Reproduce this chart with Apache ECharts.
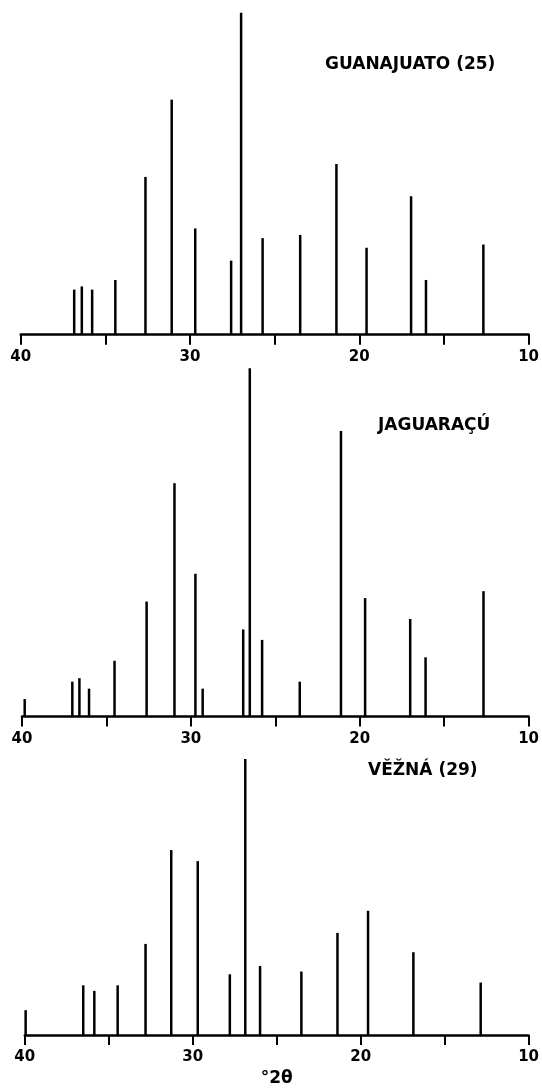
<!DOCTYPE html>
<html>
<head>
<meta charset="utf-8">
<style>
    html, body { margin: 0; padding: 0; background: #fff; }
    #xrd { width: 542px; height: 1088px; }
</style>
<script src="https://cdn.jsdelivr.net/npm/echarts@6/dist/echarts.min.js"></script>
</head>
<body>
<div id="xrd"></div>
<script>
/* 三个样品的 XRD 衍射峰 (2θ, 相对强度 %) */
var names = ['GUANAJUATO (25)', 'JAGUARAÇÚ', 'VĚŽNÁ (29)'];

var angles1 = [36.84, 36.39, 35.78, 34.41, 32.63, 31.08, 29.69, 27.57, 26.98, 25.71, 23.49, 21.35, 19.57, 16.94, 16.06, 12.67];
var int1    = [14, 15, 14, 17, 49, 73, 33, 23, 100, 30, 31, 53, 27, 43, 17, 28];

var angles2 = [39.84, 37.02, 36.60, 36.03, 34.52, 32.62, 30.97, 29.73, 29.30, 26.90, 26.51, 25.78, 23.55, 21.11, 19.68, 17.01, 16.10, 12.67];
var int2    = [5, 10, 11, 8, 16, 33, 67, 41, 8, 25, 100, 22, 10, 82, 34, 28, 17, 36];

var angles3 = [39.95, 36.52, 35.86, 34.47, 32.81, 31.28, 29.70, 27.79, 26.87, 25.99, 23.53, 21.38, 19.56, 16.86, 12.85];
var int3    = [9, 18, 16, 18, 33, 67, 63, 22, 100, 25, 23, 37, 45, 30, 19];

var tickLabels = ['10', '20', '30', '40'];

(function () {
    var font = 'DejaVu Sans';
    var panels = [
        {x: angles1, y: int1, grid: {left: 20.7, right: 11, top: 12.7, height: 322}, title: {left: 325, top: 56}},
        {x: angles2, y: int2, grid: {left: 22, right: 11.3, top: 368.3, height: 348.2}, title: {left: 378, top: 417}},
        {x: angles3, y: int3, grid: {left: 24.8, right: 11, top: 759, height: 277}, title: {left: 368, top: 762}}
    ];

    function pairs(xs, ys) {
        return xs.map(function (v, i) { return [v, ys[i]]; });
    }

    var option = {
        backgroundColor: '#fff',
        animation: false,
        title: [],
        grid: [],
        xAxis: [],
        yAxis: [],
        series: []
    };

    panels.forEach(function (p, i) {
        option.title.push({
            text: names[i],
            left: p.title.left,
            top: p.title.top,
            padding: 0,
            textStyle: {fontFamily: font, fontWeight: 'bold', fontSize: 17, color: '#000'}
        });
        option.grid.push(p.grid);
        option.xAxis.push({
            type: 'value',
            gridIndex: i,
            min: 10,
            max: 40,
            interval: 5,
            inverse: true,
            name: i === 2 ? '°2θ' : '',
            nameLocation: 'middle',
            nameGap: 35,
            nameTextStyle: {fontFamily: font, fontWeight: 'bold', fontSize: 17, color: '#000'},
            axisLine: {lineStyle: {color: '#000', width: 2.5}},
            axisTick: {length: 10, lineStyle: {color: '#000', width: 2}},
            splitLine: {show: false},
            axisLabel: {
                margin: 15,
                fontFamily: font,
                fontWeight: 'bold',
                fontSize: 15,
                color: '#000',
                formatter: function (v) {
                    var s = String(v);
                    return tickLabels.indexOf(s) >= 0 ? s : '';
                }
            }
        });
        option.yAxis.push({
            type: 'value',
            gridIndex: i,
            min: 0,
            max: 100,
            show: false
        });
        option.series.push({
            type: 'bar',
            xAxisIndex: i,
            yAxisIndex: i,
            barWidth: 2.5,
            itemStyle: {color: '#000'},
            data: pairs(p.x, p.y)
        });
    });

    var chart = echarts.init(document.getElementById('xrd'));
    chart.setOption(option);
})();
</script>
</body>
</html>
